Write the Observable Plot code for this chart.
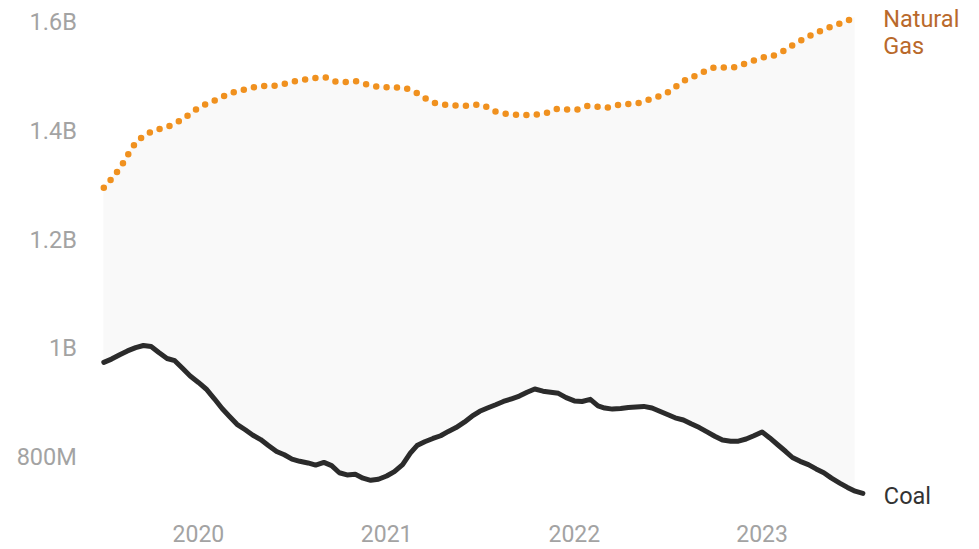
<!DOCTYPE html>
<html>
<head>
<meta charset="utf-8">
<script src="https://cdn.jsdelivr.net/npm/d3@7"></script>
<script src="https://cdn.jsdelivr.net/npm/@observablehq/plot@0.6"></script>
<style>
  html, body { margin: 0; padding: 0; background: #fff; }
  #chart { width: 979px; height: 549px; }
</style>
</head>
<body>
<div id="chart"></div>
<script>
// ---- Data ----
// Natural gas, monthly from Jul 2019 to Jul 2023 (billions)
const gasStart = "2019-07-01";
const gasValues = [
  1.296, 1.332, 1.378, 1.399, 1.408, 1.422, 1.443, 1.456, 1.469, 1.477, 1.483, 1.484,
  1.491, 1.496, 1.499, 1.490, 1.492, 1.484, 1.481, 1.480, 1.470, 1.453, 1.448, 1.447,
  1.449, 1.436, 1.431, 1.430, 1.432, 1.441, 1.439, 1.447, 1.443, 1.449, 1.451, 1.460,
  1.471, 1.492, 1.505, 1.517, 1.517, 1.525, 1.535, 1.542, 1.558, 1.574, 1.587, 1.598,
  1.609
];
// Coal, twice a month (1st and 16th) from Jul 2019 to mid-Jul 2023 (billions)
const coalValues = [
  0.975, 0.981, 0.989, 0.996, 1.002, 1.006, 1.004, 0.993, 0.982, 0.978, 0.964, 0.950,
  0.938, 0.926, 0.908, 0.890, 0.876, 0.861, 0.851, 0.841, 0.833, 0.822, 0.811, 0.805,
  0.797, 0.793, 0.790, 0.786, 0.791, 0.785, 0.772, 0.768, 0.769, 0.762, 0.758, 0.760,
  0.766, 0.774, 0.787, 0.808, 0.822, 0.829, 0.835, 0.840, 0.848, 0.855, 0.865, 0.876,
  0.885, 0.891, 0.897, 0.903, 0.908, 0.913, 0.920, 0.926, 0.922, 0.920, 0.918, 0.910,
  0.904, 0.903, 0.907, 0.895, 0.891, 0.889, 0.890, 0.892, 0.893, 0.894, 0.891, 0.885,
  0.879, 0.873, 0.869, 0.862, 0.855, 0.847, 0.839, 0.832, 0.830, 0.830, 0.834, 0.840,
  0.847, 0.836, 0.823, 0.811, 0.800, 0.793, 0.787, 0.779, 0.772, 0.762, 0.753, 0.745,
  0.738, 0.734
];
const yTicks = [0.8, 1.0, 1.2, 1.4, 1.6];
const yTickLabels = ["800M", "1B", "1.2B", "1.4B", "1.6B"];
const xTickYears = ["2020", "2021", "2022", "2023"];
const gasLabel = "Natural\nGas";
const coalLabel = "Coal";

// ---- Build tables ----
const t0 = new Date(gasStart + "T00:00:00Z");
const gas = gasValues.map((v, i) => ({date: d3.utcMonth.offset(t0, i), value: v}));
const coal = coalValues.map((v, i) => {
  const m = d3.utcMonth.offset(t0, Math.floor(i / 2));
  return {date: i % 2 ? d3.utcDay.offset(m, 15) : m, value: v};
});
const band = gas.map((g, i) => ({date: g.date, lo: coalValues[2 * i], hi: g.value}));
const xTicks = xTickYears.map(y => new Date(y + "-01-01T00:00:00Z"));

const chart = Plot.plot({
  width: 979,
  height: 549,
  marginLeft: 103.3,
  marginRight: 108.4,
  marginTop: 11.1,
  marginBottom: 48.5,
  style: {fontFamily: "Roboto, 'Noto Sans', sans-serif", background: "#fff", overflow: "visible"},
  x: {type: "utc", domain: [new Date("2019-07-01T00:00:00Z"), new Date("2023-08-01T00:00:00Z")]},
  y: {domain: [0.72, 1.62]},
  marks: [
    Plot.areaY(band, {x: "date", y1: "lo", y2: "hi", fill: "#f9f9f9", curve: "monotone-x"}),
    Plot.axisX(xTicks, {tickSize: 0, tickPadding: 25, tickFormat: d3.utcFormat("%Y"), fontSize: 23, color: "#a3a3a3", label: null}),
    Plot.axisY(yTicks, {tickSize: 0, tickPadding: 27, tickFormat: d => yTickLabels[yTicks.indexOf(d)], fontSize: 23.5, color: "#a3a3a3", label: null}),
    Plot.line(coal, {x: "date", y: "value", stroke: "#2b2b2b", strokeWidth: 5, strokeLinejoin: "round", strokeLinecap: "round"}),
    Plot.line(gas, {x: "date", y: "value", stroke: "#f0911f", strokeWidth: 6.5, strokeDasharray: "0 10.4", strokeLinecap: "round", curve: "monotone-x"}),
    Plot.text([gas[gas.length - 1]], {x: "date", y: "value", text: () => gasLabel, textAnchor: "start", dx: 28, dy: 14, lineHeight: 1.15, fill: "#b9692b", fontSize: 23.5}),
    Plot.text([coal[coal.length - 1]], {x: "date", y: "value", text: () => coalLabel, textAnchor: "start", dx: 21, dy: 3, fill: "#333", fontSize: 23.5})
  ]
});
document.getElementById("chart").appendChild(chart);
</script>
</body>
</html>
